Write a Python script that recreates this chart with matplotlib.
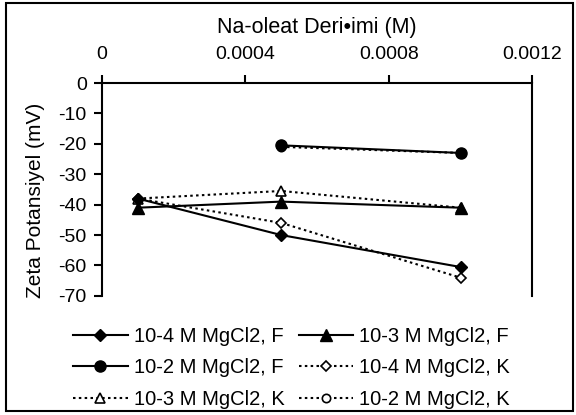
import numpy as np
import matplotlib.pyplot as plt
from matplotlib.patches import Rectangle

plt.rcParams['font.family'] = ['Liberation Sans', 'DejaVu Sans']
plt.rcParams['axes.unicode_minus'] = False

# Na-oleat concentration (M)
conc = [0.0001, 0.0005, 0.001]
conc_hi = [0.0005, 0.001]

# zeta potential (mV) per MgCl2 level, F and K series
mg4_F = [-38, -50, -60.5]
mg3_F = [-41, -39, -41]
mg2_F = [-20.5, -23]
mg4_K = [-38, -46, -64]
mg3_K = [-38, -35.5, -41]
mg2_K = [-21, -23]

labels = ['10-4 M MgCl2, F', '10-3 M MgCl2, F', '10-2 M MgCl2, F',
          '10-4 M MgCl2, K', '10-3 M MgCl2, K', '10-2 M MgCl2, K']

xticks = [0, 0.0004, 0.0008, 0.0012]
xticklabels = ['0', '0.0004', '0.0008', '0.0012']
yticks = [0, -10, -20, -30, -40, -50, -60, -70]

fig = plt.figure(figsize=(5.76, 4.15), dpi=100)
ax = fig.add_axes([0.177, 0.287, 0.747, 0.513])

dot = (0, (1.2, 1.6))
lw = 1.5
h = {}
h[5] = ax.plot(conc_hi, mg2_K, color='black', ls=dot, lw=lw, marker='o', ms=6,
               mfc='white', mec='black', mew=1.2)[0]
h[2] = ax.plot(conc_hi, mg2_F, color='black', ls='-', lw=lw, marker='o', ms=8,
               mfc='black', mec='black')[0]
h[3] = ax.plot(conc, mg4_K, color='black', ls=dot, lw=lw, marker='D', ms=5.5,
               mfc='white', mec='black', mew=1.2)[0]
h[4] = ax.plot(conc, mg3_K, color='black', ls=dot, lw=lw, marker='^', ms=7.5,
               mfc='white', mec='black', mew=1.2)[0]
h[0] = ax.plot(conc, mg4_F, color='black', ls='-', lw=lw, marker='D', ms=6,
               mfc='black', mec='black')[0]
h[1] = ax.plot(conc, mg3_F, color='black', ls='-', lw=lw, marker='^', ms=8.5,
               mfc='black', mec='black')[0]

ax.set_xlim(0, 0.0012)
ax.set_ylim(-70, 0)
ax.xaxis.tick_top()
ax.xaxis.set_label_position('top')
ax.set_xticks(xticks)
ax.set_xticklabels(xticklabels)
ax.set_yticks(yticks)
ax.tick_params(axis='both', labelsize=14, width=1.5, length=6, direction='out')
ax.tick_params(axis='x', pad=8.5)
ax.tick_params(axis='y', pad=5)
ax.set_xlabel('Na-oleat Deri\u2022imi (M)', fontsize=15.5, labelpad=9.5)
ax.set_ylabel('Zeta Potansiyel (mV)', fontsize=15)
ax.yaxis.set_label_coords(-0.133, 0.45)
ax.spines['bottom'].set_visible(False)
for s in ['top', 'left', 'right']:
    ax.spines[s].set_linewidth(1.5)

# legend in two columns, filled column-wise
order = [0, 2, 4, 1, 3, 5]
fig.legend([h[i] for i in order], [labels[i] for i in order], ncol=2,
           loc='center', bbox_to_anchor=(0.506, 0.114), frameon=False,
           fontsize=14.5, handlelength=2.7, handletextpad=0.3,
           columnspacing=0.7, labelspacing=0.62, borderpad=0)

# outer border around the whole chart
fig.patches.append(Rectangle((0.0104, 0.0096), 0.984, 0.983, transform=fig.transFigure,
                             fill=False, edgecolor='black', lw=1.5))

fig.savefig('out.png', dpi=100)
